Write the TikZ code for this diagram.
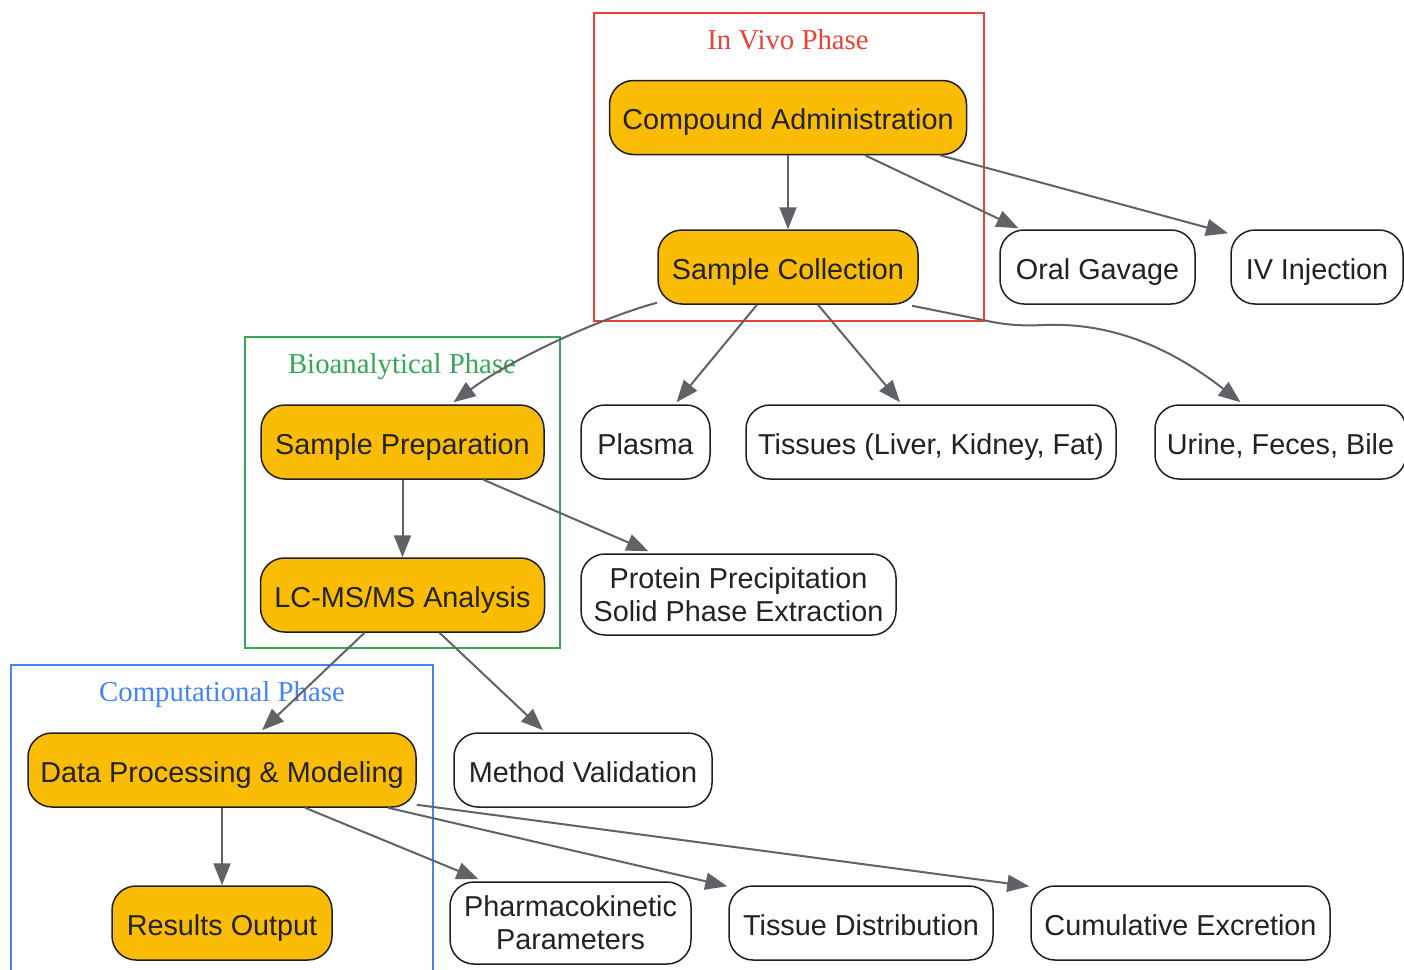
\documentclass[tikz,border=0pt]{standalone}
\usepackage{fontspec}
\setmainfont{Liberation Sans}
\newfontfamily\titlefont{Liberation Serif}
\usetikzlibrary{arrows.meta,calc}
\definecolor{amber}{HTML}{FBBC05}
\definecolor{edgec}{HTML}{5F6368}
\definecolor{textc}{HTML}{222222}
\definecolor{nodeline}{HTML}{1F1F1F}
\definecolor{cred}{HTML}{EA4335}
\definecolor{cgreen}{HTML}{34A853}
\definecolor{cblue}{HTML}{4285F4}
\begin{document}
\begin{tikzpicture}[x=1pt,y=-1pt,
  box/.style={draw=nodeline, line width=1.5pt, rounded corners=24pt, minimum height=74pt,
    inner sep=0pt, font=\fontsize{28.8}{33}\selectfont, text=textc, align=center},
  oneline/.style={text height=27pt, text depth=3pt},
  mainbox/.style={box, oneline, fill=amber},
  leafbox/.style={box, oneline, fill=white},
  twoline/.style={box, fill=white, minimum height=81pt},
  edge/.style={draw=edgec, line width=2pt, -{Triangle[length=22pt,width=17pt]}},
  cluster/.style={line width=1.5pt},
  ctitle/.style={font=\titlefont\fontsize{28.8}{33}\selectfont, text height=22pt, text depth=3pt, inner sep=0pt}]
\clip (0,0) rectangle (1404,969);
\fill[white] (0,0) rectangle (1404,969);

% clusters
\draw[cluster, draw=cred] (594,13) rectangle (984,321);
\node[ctitle, text=cred] (tvivo) at (788,40) {In Vivo Phase};
\draw[cluster, draw=cgreen] (245,337) rectangle (560,648);
\node[ctitle, text=cgreen] (tbio) at (402,364) {Bioanalytical Phase};
\draw[cluster, draw=cblue] (11,665) rectangle (433,990);
\node[ctitle, text=cblue] (tcomp) at (222,692) {Computational Phase};

% nodes
\node[mainbox, minimum width=357pt] (CA) at (788,117.5) {Compound Administration};
\node[mainbox, minimum width=260pt] (SC) at (788,267) {Sample Collection};
\node[leafbox, minimum width=195pt] (OG) at (1097.5,267) {Oral Gavage};
\node[leafbox, minimum width=172pt] (IV) at (1317,267) {IV Injection};
\node[mainbox, minimum width=283pt] (SP) at (402.5,442) {Sample Preparation};
\node[leafbox, minimum width=129pt] (PL) at (645.5,442) {Plasma};
\node[leafbox, minimum width=370pt] (TI) at (931,442) {Tissues (Liver, Kidney, Fat)};
\node[leafbox, minimum width=251pt] (UR) at (1280.5,442) {Urine, Feces, Bile};
\node[twoline, minimum width=315pt] (PP) at (738.5,594.5) {Protein Precipitation\\Solid Phase Extraction};
\node[mainbox, minimum width=284pt] (LC) at (402.5,595) {LC-MS/MS Analysis};
\node[mainbox, minimum width=388pt] (DP) at (222,770) {Data Processing \& Modeling};
\node[leafbox, minimum width=258pt] (MV) at (583,770) {Method Validation};
\node[mainbox, minimum width=220pt] (RO) at (222,923) {Results Output};
\node[twoline, minimum width=241pt, minimum height=82pt] (PK) at (570.5,923) {Pharmacokinetic\\Parameters};
\node[leafbox, minimum width=264pt] (TD) at (861,923) {Tissue Distribution};
\node[leafbox, minimum width=299pt] (CE) at (1180.5,923) {Cumulative Excretion};

% edges
\draw[edge] (CA.south) -- (SC.north);
\draw[edge] ($(CA.south)+(77,0)$) -- ($(OG.north)+(-79,-1)$);
\draw[edge] ($(CA.south)+(152,0)$) -- ($(IV.north)+(-89,4)$);
\draw[edge] ($(SC.south)+(-131,-2)$) .. controls (600,318) and (510,360) .. ($(SP.north)+(51,-2)$);
\draw[edge] ($(SC.south)+(-31,0)$) -- ($(PL.north)+(31,-2)$);
\draw[edge] ($(SC.south)+(30,0)$) -- ($(TI.north)+(-31,-2)$);
\draw[edge] ($(SC.south)+(124,1)$) -- (983,320) .. controls (1005,325) and (1020,326) .. (1045,325)
  .. controls (1120,322) and (1180,355) .. ($(UR.north)+(-40,-2)$);
\draw[edge] (SP.south) -- (LC.north);
\draw[edge] ($(SP.south)+(81,0)$) -- ($(PP.north)+(-90,-2)$);
\draw[edge] ($(LC.south)+(-38,0)$) -- ($(DP.north)+(40,-2)$);
\draw[edge] ($(LC.south)+(37,0)$) -- ($(MV.north)+(-40,-2)$);
\draw[edge] (DP.south) -- (RO.north);
\draw[edge] ($(DP.south)+(83,0)$) -- ($(PK.north)+(-92,-2)$);
\draw[edge] ($(DP.south)+(166,0)$) -- ($(TD.north west)+(-1,1)$);
\draw[edge] ($(DP.south east)+(0,-3)$) -- ($(CE.north west)+(-1,1)$);
\end{tikzpicture}
\end{document}
